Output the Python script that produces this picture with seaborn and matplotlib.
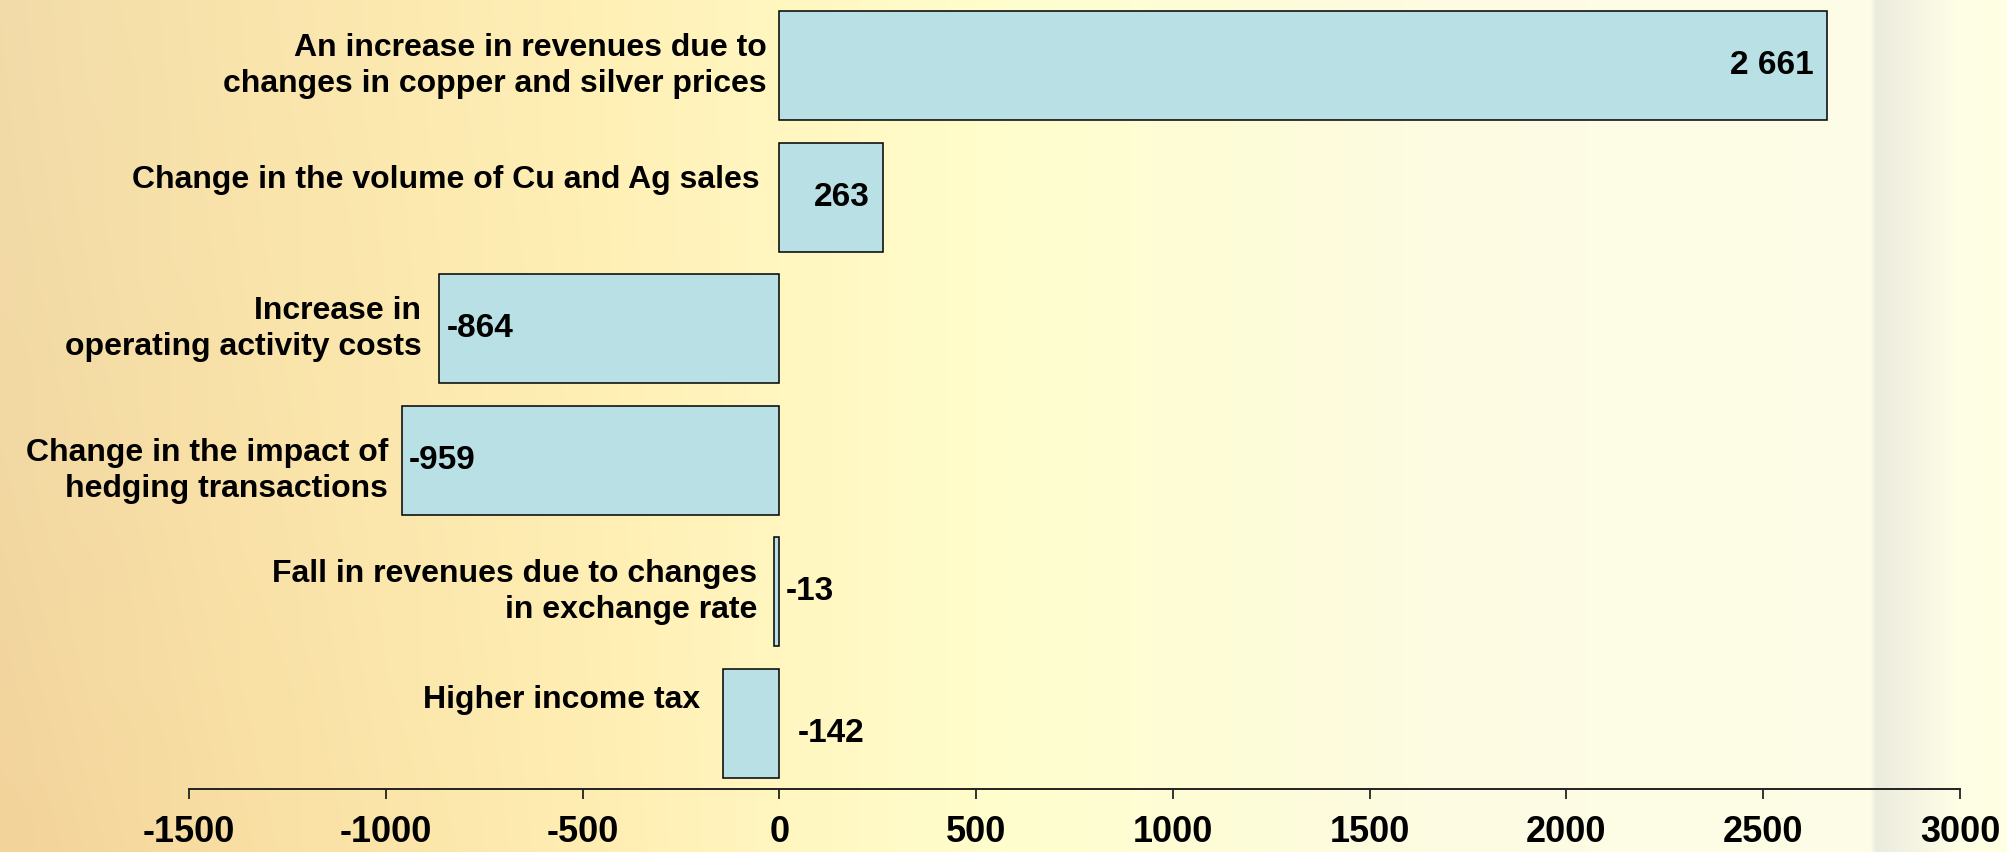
import numpy as np
import pandas as pd
import matplotlib
matplotlib.use("Agg")
import matplotlib.pyplot as plt
import seaborn as sns

# Factors behind the change in net profit (PLN m)
categories = [
    "An increase in revenues due to\nchanges in copper and silver prices",
    "Change in the volume of Cu and Ag sales",
    "Increase in\noperating activity costs",
    "Change in the impact of\nhedging transactions",
    "Fall in revenues due to changes\nin exchange rate",
    "Higher income tax",
]
values = [2661, 263, -864, -959, -13, -142]
value_labels = ["2 661", "263", "-864", "-959", "-13", "-142"]
x_ticks = [-1500, -1000, -500, 0, 500, 1000, 1500, 2000, 2500, 3000]

# label nudges (pixels) for the category texts: (dx, dy)
cat_offsets = [(-13, 0), (-20, 17), (-18, 0), (-14, -11), (-17, 0), (-23, 23)]
val_offsets_y = [0, 0, 0, 0, 0, -10]

sns.set_theme(style="white")
plt.rcParams["font.family"] = ["Liberation Sans", "DejaVu Sans"]
plt.rcParams["font.weight"] = "bold"
plt.rcParams["text.color"] = "black"
plt.rcParams["xtick.color"] = "black"

W, H, DPI = 2007, 852, 100
fig = plt.figure(figsize=(W / DPI, H / DPI), dpi=DPI)

# warm background wash, tan on the left fading to pale cream on the right
bg = fig.add_axes([0, 0, 1, 1], zorder=-10)
bg.axis("off")
xs = np.linspace(0, 1, W)
ys = np.linspace(0, 1, H)
stops = [0.0, 0.12, 0.3, 0.5, 0.72, 0.932, 0.935, 0.952, 0.975, 1.0]
r = [242, 249, 255, 255, 253, 254, 236, 244, 254, 255]
g = [219, 228, 240, 254, 251, 254, 236, 243, 254, 254]
b = [168, 172, 182, 205, 226, 232, 222, 226, 230, 226]
row = np.stack([np.interp(xs, stops, c) for c in (r, g, b)], axis=-1)
img = np.repeat(row[None, :, :], H, axis=0)
# lower-left carries a little more orange
warm = np.clip(1 - xs[None, :] / 0.4, 0, 1) * (ys[:, None] ** 1.5)
img[..., 1] -= 8 * warm
img[..., 2] -= 14 * warm
bg.imshow(np.clip(img, 0, 255).astype(np.uint8), aspect="auto", extent=[0, 1, 0, 1])
bg.set_xlim(0, 1)
bg.set_ylim(0, 1)

left_px, right_px, bottom_px = 189, 1960, 789
ax = fig.add_axes([left_px / W, 1 - bottom_px / H, (right_px - left_px) / W, bottom_px / H])
ax.patch.set_alpha(0)

df = pd.DataFrame({"category": categories, "value": values})
sns.barplot(data=df, x="value", y="category", orient="h", color="#b9e0e4",
            saturation=1, width=0.83, edgecolor="black", linewidth=1.1, ax=ax)

ax.set_xlim(-1500, 3000)
ax.set_ylim(5.5, -0.5)
ax.set_xticks(x_ticks)
ax.set_xticklabels([str(t) for t in x_ticks], fontsize=26, fontweight="bold")
ax.set_yticks([])
ax.set_xlabel("")
ax.set_ylabel("")
for side in ("top", "right", "left"):
    ax.spines[side].set_visible(False)
ax.spines["bottom"].set_color("#222222")
ax.spines["bottom"].set_linewidth(1.4)
ax.tick_params(axis="x", direction="out", length=7.5, width=1.3, color="#222222",
               pad=11, bottom=True)

px = 72.0 / DPI  # points per pixel
for i, (cat, v, lab) in enumerate(zip(categories, values, value_labels)):
    base = min(0, v)
    dx, dy = cat_offsets[i]
    ax.annotate(cat, xy=(base, i), xytext=(dx * px, dy * px), textcoords="offset points",
                ha="right", va="center", multialignment="right",
                fontsize=23, fontweight="bold", color="black", linespacing=1.28)
    if v > 0:
        ax.annotate(lab, xy=(v, i), xytext=(-13 * px, val_offsets_y[i] * px),
                    textcoords="offset points", ha="right", va="center",
                    fontsize=24, fontweight="bold", color="black")
    elif abs(v) >= 200:
        ax.annotate(lab, xy=(v, i), xytext=(7 * px, val_offsets_y[i] * px),
                    textcoords="offset points", ha="left", va="center",
                    fontsize=24, fontweight="bold", color="black")
    else:
        shift = 6 if abs(v) < 50 else 18
        ax.annotate(lab, xy=(0, i), xytext=(shift * px, val_offsets_y[i] * px),
                    textcoords="offset points", ha="left", va="center",
                    fontsize=24, fontweight="bold", color="black")

fig.savefig("out.png", dpi=DPI)
